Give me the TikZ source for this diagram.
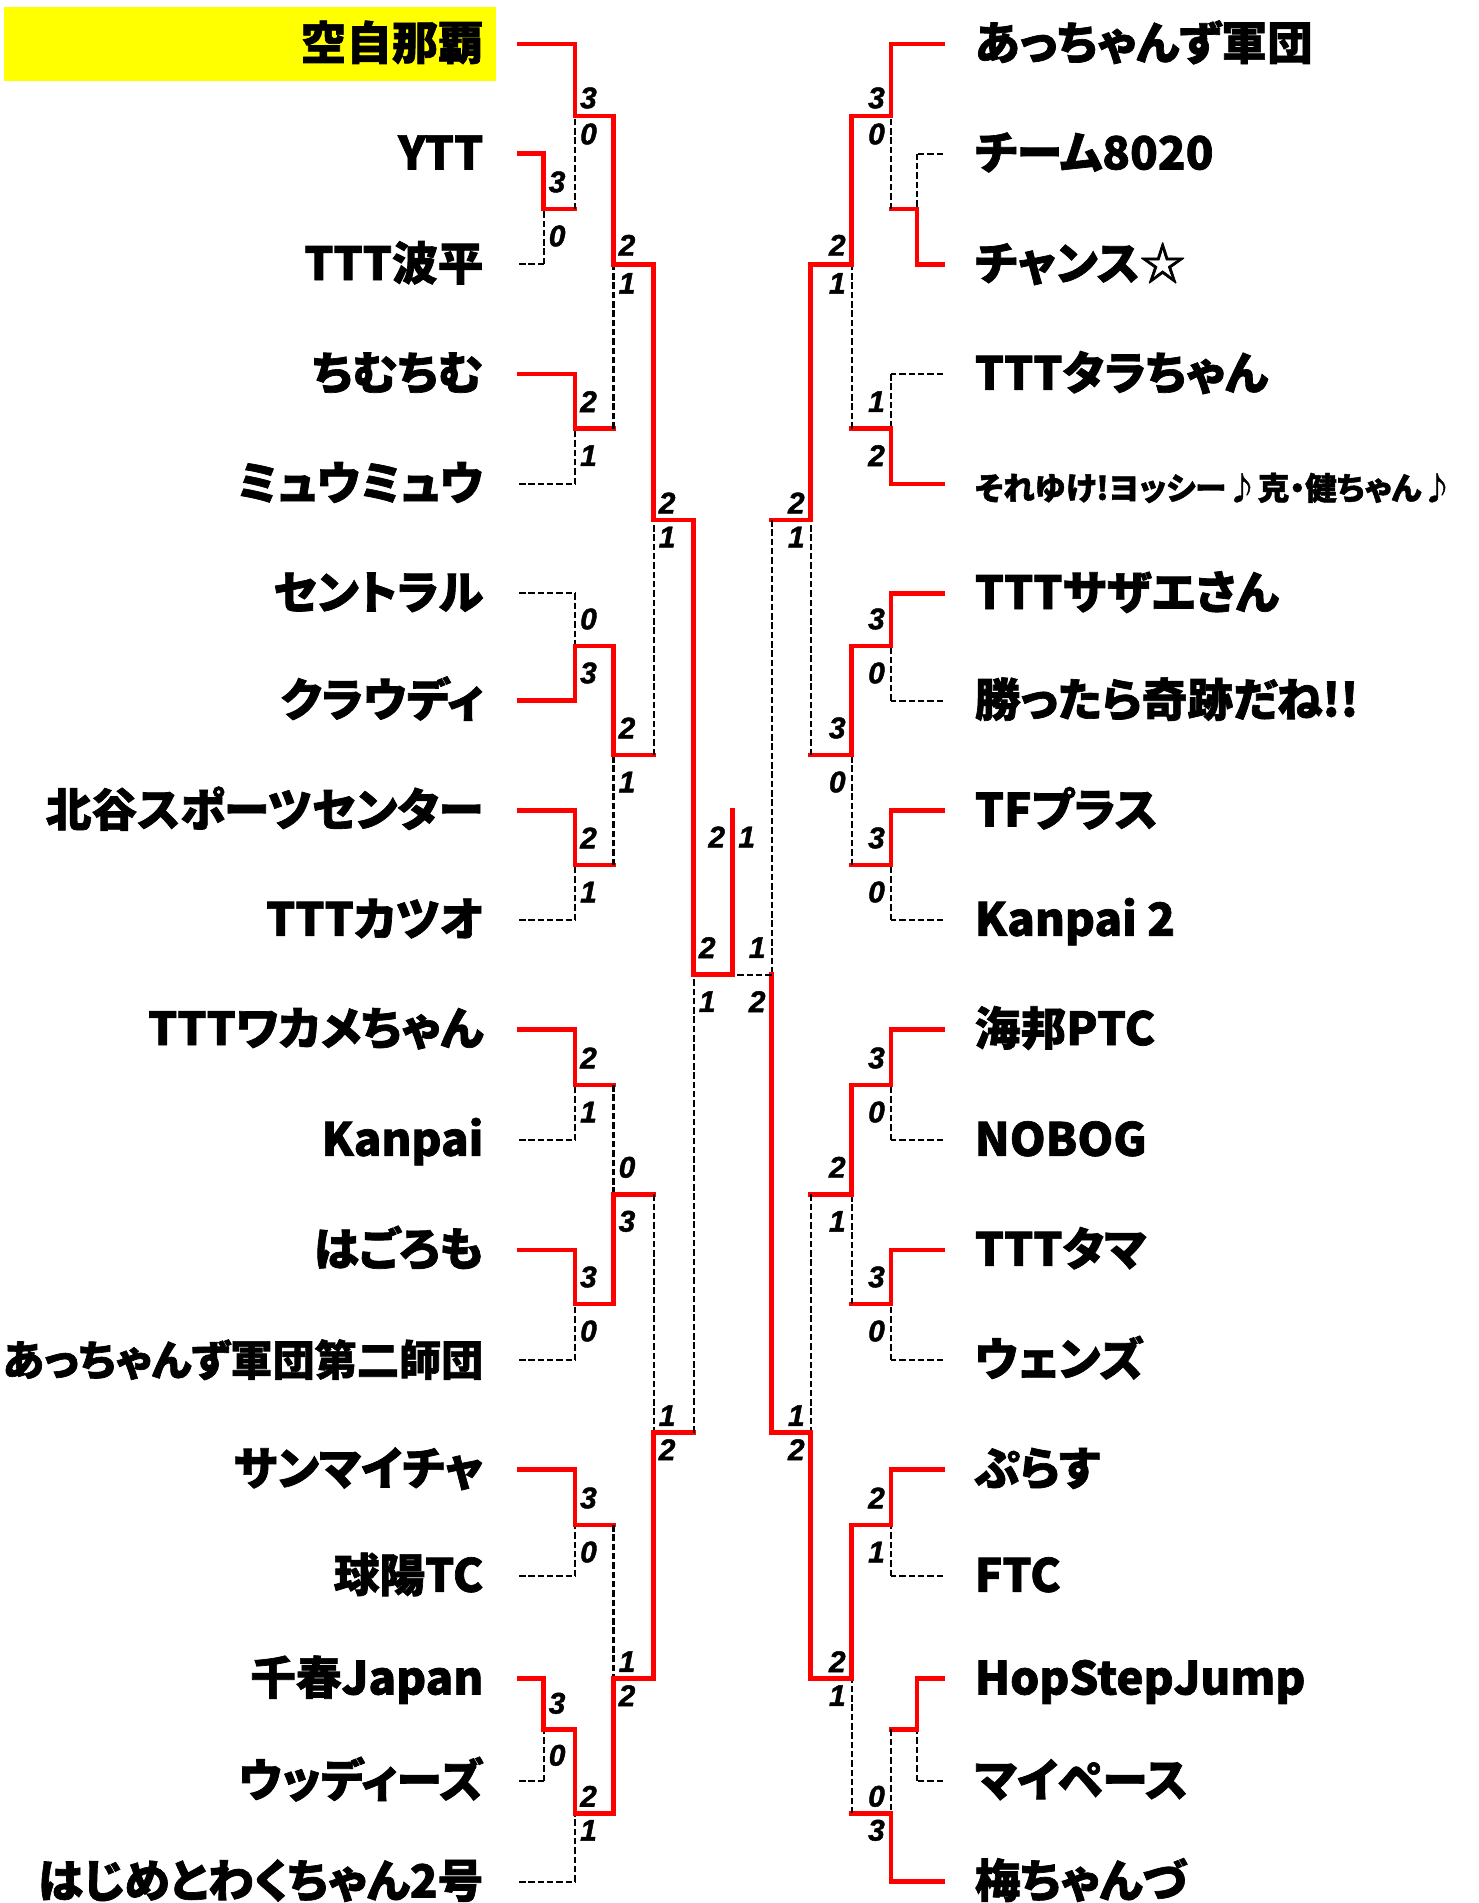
\documentclass[tikz,border=0pt]{standalone}
\usepackage{fontspec}
\newfontfamily\teamfont{Noto Sans CJK JP}[RawFeature=+palt,BoldFeatures={FakeBold=1.5}]
\newfontfamily\scorefont{Liberation Sans}[BoldItalicFeatures={FakeBold=1.5}]
\usetikzlibrary{calc}
\definecolor{WinRed}{HTML}{FF0000}
\definecolor{ChampYellow}{HTML}{FFFF00}
\tikzset{
  win/.style={WinRed,line width=2.7pt,line cap=rect},
  lose/.style={black,line width=1.2pt,dash pattern=on 3.7pt off 1.6pt},
  hW/.style={win}, vW/.style={win},
  hL/.style={lose}, vL/.style={lose},
  hM/.style={win}, vM/.style={lose},
  team/.style={font=\teamfont\bfseries\fontsize{26}{30}\selectfont,inner sep=0pt,text height=22pt,text depth=4pt},
  score/.style={font=\scorefont\bfseries\itshape\fontsize{17}{18}\selectfont,inner sep=0pt}
}
\begin{document}
\begin{tikzpicture}[x=0.02cm,y=-0.02cm]
  \useasboundingbox (0,0) rectangle (1478,1903);
  \fill[ChampYellow] (3.8,7) rectangle (495.5,81.4);

  % teams
  \foreach \i/\y/\name in {0/43.9/空自那覇,1/153.6/YTT,2/264.3/TTT波平,3/374/ちむちむ,
    4/484/ミュウミュウ,5/593.3/セントラル,6/700.7/クラウディ,7/810.7/北谷スポーツセンター,
    8/920/TTTカツオ,9/1029.3/TTTワカメちゃん,10/1140/Kanpai\ ,11/1250/はごろも,
    12/1360/{\fontsize{24}{28}\selectfont あっちゃんず軍団第二師団},13/1469.3/サンマイチャ,14/1576/球陽TC,
    15/1678.7/千春Japan,16/1781/ウッディーズ,17/1881.7/はじめとわくちゃん2号} {
    \node[team,anchor=east] (L\i) at (483.7,\y) {\name};
    \coordinate (Lt\i) at (519,\y);
  }
  \foreach \i/\y/\name in {0/43.9/あっちゃんず軍団,1/153.6/チーム8020,2/264.3/チャンス☆,
    3/374/TTTタラちゃん,4/484/{\fontsize{18}{20}\selectfont それゆけ!ヨッシー♪克・健ちゃん♪},
    5/593.3/TTTサザエさん,6/700.7/勝ったら奇跡だね!!,7/810.7/TFプラス,8/920/Kanpai 2,
    9/1029.3/海邦PTC,10/1140/NOBOG,11/1250/TTTタマ,12/1360/ウェンズ,13/1469.3/ぷらす,
    14/1576/FTC,15/1678.7/HopStepJump,16/1781/マイペース,17/1881.7/梅ちゃんづ} {
    \node[team,anchor=west] (R\i) at (974.5,\y) {\name};
    \coordinate (Rt\i) at (943,\y);
  }

  % matches: name/x/mid/top/bottom/top path/bottom path
  \foreach \m/\x/\y/\a/\b/\pa/\pb in {p1/543.6/209/t1/t2/W/L,a1/575/116/t0/p1/W/M,
    a2/575/428.6/t3/t4/W/L,a3/575/646/t5/t6/L/W,a4/575/865/t7/t8/W/L,
    a5/575/1085/t9/t10/W/L,a6/575/1304/t11/t12/W/L,a7/575/1525/t13/t14/W/L,
    p2/543.6/1729.3/t15/t16/W/L,a8/575/1813.3/p2/t17/W/L,
    b1/613.5/264.3/a1/a2/W/M,b2/613.5/755/a3/a4/W/M,b3/613.5/1194.3/a5/a6/M/W,
    b4/613.5/1678.7/a7/a8/M/W,c1/653.6/520/b1/b2/W/M,c2/653.6/1432.7/b3/b4/M/W,
    d/693.7/974.6/c1/c2/W/M} {
    \coordinate (L\m) at (\x,\y);
    \draw[h\pa] (L\a) -- (L\a -| L\m);
    \draw[v\pa] (L\a -| L\m) -- (L\m);
    \draw[h\pb] (L\b) -- (L\b -| L\m);
    \draw[v\pb] (L\b -| L\m) -- (L\m);
  }
  \foreach \m/\x/\y/\a/\b/\pa/\pb in {p1/917/209/t1/t2/L/W,a1/891/116/t0/p1/W/M,
    a2/891/428.6/t3/t4/L/W,a3/891/646/t5/t6/W/L,a4/891/865/t7/t8/W/L,
    a5/891/1085/t9/t10/W/L,a6/891/1304/t11/t12/W/L,a7/891/1525/t13/t14/W/L,
    p2/917/1729.3/t15/t16/W/L,a8/891/1813.3/p2/t17/M/W,
    b1/851.8/264.3/a1/a2/W/M,b2/851.8/755/a3/a4/W/M,b3/851.8/1194.3/a5/a6/W/M,
    b4/851.8/1678.7/a7/a8/W/M,c1/810.8/520/b1/b2/W/M,c2/810.8/1432.7/b3/b4/M/W,
    d/771.7/974.6/c1/c2/M/W} {
    \coordinate (R\m) at (\x,\y);
    \draw[h\pa] (R\a) -- (R\a -| R\m);
    \draw[v\pa] (R\a -| R\m) -- (R\m);
    \draw[h\pb] (R\b) -- (R\b -| R\m);
    \draw[v\pb] (R\b -| R\m) -- (R\m);
  }

  % final
  \coordinate (F) at (732.5,974.6);
  \coordinate (champ) at (732.5,810.7);
  \draw[lose] (Rd) -- (F);
  \draw[win] (Ld) -- (F);
  \draw[win] (F) -- (champ);

  % scores: match/top/bottom/offset
  \foreach \m/\ka/\kb/\sh in {p1/3/0/27,a1/3/0/18,a2/2/1/27,a3/0/3/27,a4/2/1/27,
    a5/2/1/27,a6/3/0/27,a7/3/0/27,p2/3/0/26,a8/2/1/17,b1/2/1/19,b2/2/1/27,
    b3/0/3/27,b4/1/2/17,c1/2/1/17,c2/1/2/17,d/2/1/27} {
    \node[score] (L\m-a) at ($(L\m)+(13.5,-\sh)$) {\ka};
    \node[score] (L\m-b) at ($(L\m)+(13.5,\sh)$) {\kb};
  }
  \foreach \m/\ka/\kb/\sh in {a1/3/0/18,a2/1/2/27,a3/3/0/27,a4/3/0/27,
    a5/3/0/27,a6/3/0/27,a7/2/1/27,a8/0/3/17,b1/2/1/19,b2/3/0/27,
    b3/2/1/27,b4/2/1/17,c1/2/1/17,c2/1/2/17,d/1/2/27} {
    \node[score] (R\m-a) at ($(R\m)+(-14.5,-\sh)$) {\ka};
    \node[score] (R\m-b) at ($(R\m)+(-14.5,\sh)$) {\kb};
  }
  \node[score] (final-a) at ($(champ)+(-15.8,26.3)$) {2};
  \node[score] (final-b) at ($(champ)+(14.2,26.3)$) {1};
\end{tikzpicture}
\end{document}
